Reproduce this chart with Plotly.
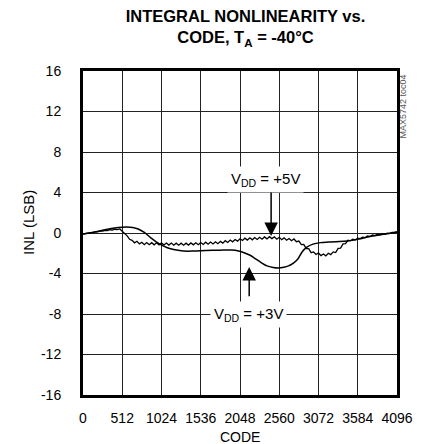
import plotly.graph_objects as go

# ---------------- data ----------------
x_ticks = [0, 512, 1024, 1536, 2048, 2560, 3072, 3584, 4096]
y_ticks = [-16, -12, -8, -4, 0, 4, 8, 12, 16]

# VDD = +5V (noisy trace)
codes_5v = [0, 32, 64, 96, 128, 160, 192, 224, 256, 288, 320, 352, 384, 416, 448, 480,
            512, 544, 576, 608, 640, 672, 704, 736, 768, 800, 832, 864, 896, 928, 960, 992,
            1024, 1056, 1088, 1120, 1152, 1184, 1216, 1248, 1280, 1312, 1344, 1376, 1408, 1440, 1472, 1504,
            1536, 1568, 1600, 1632, 1664, 1696, 1728, 1760, 1792, 1824, 1856, 1888, 1920, 1952, 1984, 2016,
            2048, 2080, 2112, 2144, 2176, 2208, 2240, 2272, 2304, 2336, 2368, 2400, 2432, 2464, 2496, 2528,
            2560, 2592, 2624, 2656, 2688, 2720, 2752, 2784, 2816, 2848, 2880, 2912, 2944, 2976, 3008, 3040,
            3072, 3104, 3136, 3168, 3200, 3232, 3264, 3296, 3328, 3360, 3392, 3424, 3456, 3488, 3520, 3552,
            3584, 3616, 3648, 3680, 3712, 3744, 3776, 3808, 3840, 3872, 3904, 3936, 3968, 4000, 4032, 4064,
            4096]
inl_5v = [-0.10, -0.04, -0.04, 0.04, 0.03, 0.12, 0.11, 0.20, 0.18, 0.27, 0.23, 0.32, 0.28, 0.37, 0.33, 0.40,
          0.18, -0.03, -0.28, -0.62, -0.72, -0.97, -0.82, -1.07, -0.92, -1.15, -0.95, -1.16, -0.96, -1.17, -0.97, -1.18,
          -0.98, -1.18, -0.99, -1.19, -0.99, -1.20, -1.00, -1.20, -1.00, -1.20, -1.00, -1.19, -0.98, -1.17, -0.96, -1.15,
          -0.94, -1.13, -0.91, -1.10, -0.89, -1.08, -0.87, -1.06, -0.83, -1.00, -0.76, -0.93, -0.70, -0.87, -0.64, -0.80,
          -0.57, -0.74, -0.51, -0.70, -0.48, -0.67, -0.45, -0.64, -0.42, -0.61, -0.39, -0.58, -0.36, -0.55, -0.38, -0.61,
          -0.43, -0.66, -0.48, -0.71, -0.54, -0.76, -0.59, -0.86, -0.80, -1.14, -1.13, -1.54, -1.54, -1.95, -1.87, -2.12,
          -1.97, -2.23, -2.08, -2.26, -2.00, -2.14, -1.87, -1.93, -1.52, -1.50, -1.08, -1.05, -0.72, -0.77, -0.62, -0.67,
          -0.51, -0.56, -0.41, -0.46, -0.30, -0.35, -0.20, -0.26, -0.14, -0.19, -0.07, -0.12, -0.01, -0.04, 0.05, 0.05,
          0.10]

# VDD = +3V (smooth trace)
codes_3v = [0, 150, 340, 460, 570, 650, 720, 800, 880, 980, 1100, 1200, 1310, 1450, 1600, 1780,
            1940, 2030, 2110, 2180, 2240, 2320, 2400, 2480, 2550, 2620, 2680, 2740, 2800, 2860, 2920,
            3000, 3100, 3200, 3300, 3450, 3600, 3780, 3950, 4096]
inl_3v = [-0.10, 0.10, 0.40, 0.55, 0.60, 0.55, 0.40, 0.05, -0.45, -1.00, -1.45, -1.65, -1.78, -1.78, -1.73, -1.70,
          -1.68, -1.78, -1.97, -2.20, -2.50, -2.90, -3.25, -3.40, -3.45, -3.38, -3.25, -3.00, -2.60, -1.85, -1.40,
          -1.10, -0.95, -0.90, -0.86, -0.79, -0.60, -0.30, -0.10, 0.10]

# annotation anchors (data units)
label_5v = ("V<sub>DD</sub> = +5V", 2382, 5.3)
arrow_5v = (2454, -0.3, 4.15)     # x, tip y, tail y
label_3v = ("V<sub>DD</sub> = +3V", 2155, -8.0)
arrow_3v = (2168, -3.35, -6.4)

title_text = "INTEGRAL NONLINEARITY vs.<br>CODE, T<sub>A</sub> = -40\u00b0C"
x_title = "CODE"
y_title = "INL (LSB)"
tag_text = "MAX5742 toc04"

FONT = "Liberation Sans, Arial, sans-serif"

fig = go.Figure()
fig.add_trace(go.Scatter(x=codes_5v, y=inl_5v, mode="lines",
                         line=dict(color="black", width=1.3), name="5V"))
fig.add_trace(go.Scatter(x=codes_3v, y=inl_3v, mode="lines", line_shape="spline",
                         line=dict(color="black", width=1.5), name="3V"))

annotations = []
for (txt, ax_, ay_) in [label_5v, label_3v]:
    annotations.append(dict(x=ax_, y=ay_, xref="x", yref="y", text=txt, showarrow=False,
                            font=dict(family=FONT, size=15, color="black"),
                            bgcolor="white", borderpad=3))
for (xx, tip, tail) in [arrow_5v, arrow_3v]:
    annotations.append(dict(x=xx, y=tip, ax=xx, ay=tail, xref="x", yref="y", axref="x", ayref="y",
                            text="", showarrow=True, arrowhead=2, arrowsize=1.8, arrowwidth=1.5,
                            arrowcolor="black"))
annotations.append(dict(x=0.5, y=-0.13, xref="paper", yref="paper", text=x_title, showarrow=False,
                        xanchor="center", yanchor="middle",
                        font=dict(family=FONT, size=14, color="black")))
annotations.append(dict(x=-0.172, y=0.534, xref="paper", yref="paper", text=y_title, showarrow=False,
                        xanchor="center", yanchor="middle", textangle=-90,
                        font=dict(family=FONT, size=15, color="black")))
annotations.append(dict(x=1.018, y=0.889, xref="paper", yref="paper", text=tag_text, showarrow=False,
                        xanchor="center", yanchor="middle", textangle=-90,
                        font=dict(family=FONT, size=9, color="#555555")))

fig.update_layout(
    width=425, height=444,
    margin=dict(l=83, r=17, t=71, b=49),
    paper_bgcolor="white", plot_bgcolor="white",
    showlegend=False,
    title=dict(text=title_text, x=(83 + 325 / 2) / 425, xanchor="center",
               y=1 - 22 / 444, yanchor="middle",
               font=dict(family=FONT, size=16.5, color="black", weight="bold")),
    font=dict(family=FONT, size=14, color="black"),
    annotations=annotations,
)
fig.update_xaxes(range=[0, 4096], tickvals=x_ticks, ticktext=[str(v) for v in x_ticks],
                 showgrid=True, gridcolor="#222222", gridwidth=1, zeroline=False,
                 showline=True, linecolor="black", linewidth=3, mirror=True,
                 ticks="", ticklabelstandoff=8, tickangle=0, tickfont=dict(family=FONT, size=14))
fig.update_yaxes(range=[-16, 16], tickvals=y_ticks, ticktext=[str(v) for v in y_ticks],
                 showgrid=True, gridcolor="#222222", gridwidth=1, zeroline=False,
                 showline=True, linecolor="black", linewidth=3, mirror=True,
                 ticks="", ticklabelstandoff=16, tickfont=dict(family=FONT, size=14))

fig.write_html("out.html", config={"displayModeBar": False},
               post_script="document.body.style.margin='0px';")
